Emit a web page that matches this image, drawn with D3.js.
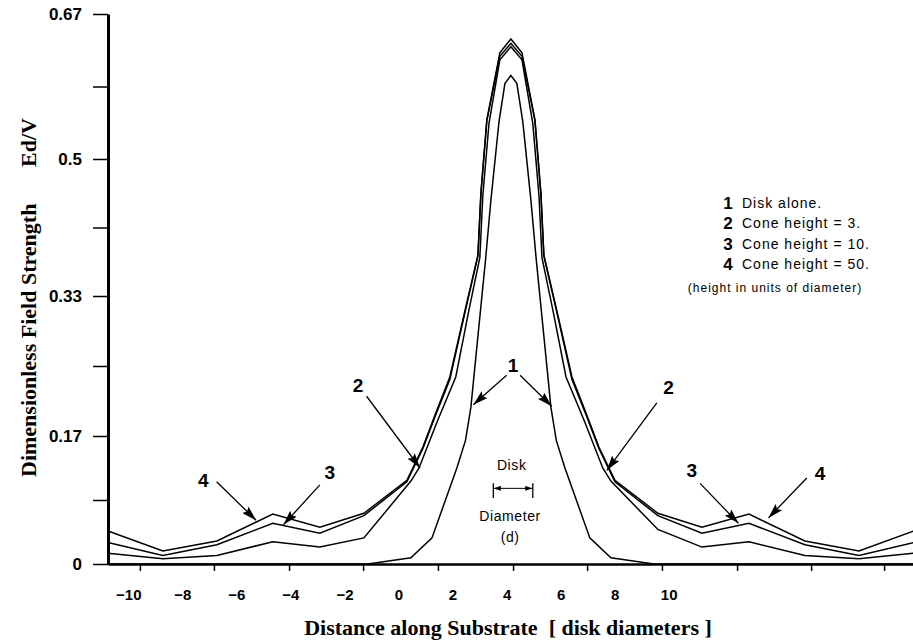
<!DOCTYPE html>
<html>
<head>
<meta charset="utf-8">
<script src="https://cdn.jsdelivr.net/npm/d3@7"></script>
<style>
  body { margin: 0; background: #fff; }
  svg { display: block; }
</style>
</head>
<body>
<script>
// values (x in disk diameters, y = Ed/V)
const xOuter = [-10.75, -8.72, -6.72, -4.65, -2.91, -1.28, 0.31, 0.90, 1.38, 1.90, 2.49, 2.94, 3.05, 3.27, 3.75, 4.16,
  4.57, 5.05, 5.27, 5.38, 5.83, 6.42, 6.94, 7.42, 8.01, 9.60, 11.23, 12.97, 15.04, 17.04, 19.07];
const cone50 = [0.043, 0.017, 0.030, 0.065, 0.048, 0.066, 0.109, 0.152, 0.194, 0.237, 0.320, 0.383, 0.459, 0.545, 0.622, 0.638,
  0.622, 0.545, 0.459, 0.383, 0.320, 0.237, 0.194, 0.152, 0.109, 0.066, 0.048, 0.065, 0.030, 0.017, 0.043];
const cone10 = [0.028, 0.011, 0.025, 0.053, 0.040, 0.063, 0.107, 0.150, 0.192, 0.234, 0.318, 0.382, 0.457, 0.544, 0.618, 0.633,
  0.618, 0.544, 0.457, 0.382, 0.318, 0.234, 0.192, 0.150, 0.107, 0.063, 0.040, 0.053, 0.025, 0.011, 0.028];

const xCone3 = [-10.75, -8.72, -6.72, -4.65, -2.91, -1.28, 0.46, 0.76, 1.46, 2.12, 2.61, 3.01, 3.12, 3.35, 3.75, 4.16,
  4.57, 4.97, 5.20, 5.31, 5.71, 6.20, 6.86, 7.56, 7.86, 9.60, 11.23, 12.97, 15.04, 17.04, 19.07];
const cone3 = [0.014, 0.007, 0.011, 0.029, 0.022, 0.034, 0.108, 0.125, 0.186, 0.237, 0.317, 0.380, 0.455, 0.541, 0.614, 0.629,
  0.614, 0.541, 0.455, 0.380, 0.317, 0.237, 0.186, 0.125, 0.108, 0.045, 0.022, 0.029, 0.011, 0.007, 0.014];

const xDisk = [-10.75, -8.72, -6.72, -4.65, -2.91, -1.13, 0.46, 1.24, 2.16, 2.48, 2.68, 2.79, 3.22, 3.42, 3.72, 3.94, 4.16,
  4.38, 4.60, 4.90, 5.10, 5.53, 5.64, 5.84, 6.16, 7.08, 7.86, 9.45, 11.23, 12.97, 15.04, 17.04, 19.07];
const diskAlone = [0, 0, 0, 0, 0, 0, 0.008, 0.034, 0.125, 0.161, 0.201, 0.237, 0.377, 0.450, 0.543, 0.587, 0.596,
  0.587, 0.543, 0.450, 0.377, 0.237, 0.201, 0.161, 0.125, 0.034, 0.008, 0, 0, 0, 0, 0, 0];

// axis ticks
const xTickLabels = [-10, -8, -6, -4, -2, 0, 2, 4, 6, 8, 10];
const xTickMarks = [-9.57, -6.83, -4.05, -1.31, 1.46, 4.24, 6.98, 9.75, 12.53, 15.27, 17.97];
const yMajor = [0, 1 / 6, 2 / 6, 3 / 6, 4 / 6];
const yLabels = ['0', '0.17', '0.33', '0.5', '0.67'];
const yMinor = [1 / 12, 3 / 12, 5 / 12, 7 / 12];

// legend
const legendNums = ['1', '2', '3', '4'];
const legendText = ['Disk alone.', 'Cone height = 3.', 'Cone height = 10.', 'Cone height = 50.'];

// callouts: label position, arrow start, arrow tip (data units)
const callouts = [
  {label: '1', at: [4.24, 0.251], from: [4.00, 0.239], to: [2.77, 0.204]},
  {label: '',  at: [4.24, 0.251], from: [4.50, 0.239], to: [5.67, 0.202]},
  {label: '2', at: [-1.50, 0.227], from: [-1.18, 0.214], to: [0.80, 0.125]},
  {label: '2', at: [9.99, 0.225], from: [9.56, 0.206], to: [7.71, 0.122]},
  {label: '4', at: [-7.22, 0.109], from: [-6.73, 0.107], to: [-5.27, 0.057]},
  {label: '3', at: [-2.54, 0.120], from: [-2.91, 0.103], to: [-4.26, 0.051]},
  {label: '3', at: [10.85, 0.122], from: [11.16, 0.105], to: [12.58, 0.053]},
  {label: '4', at: [15.60, 0.118], from: [15.11, 0.112], to: [13.69, 0.060]}
];

const W = 913, H = 643;

const svg = d3.select('body').append('svg')
  .attr('width', W)
  .attr('height', H)
  .style('font-family', '"Liberation Sans", Arial, sans-serif');

const x = d3.scaleLinear().domain([-10.75, 19.07]).range([108, 913.8]);
// the printed y axis is not evenly spaced, so map each major tick
const y = d3.scaleLinear().domain(yMajor).range([564, 436, 296, 159, 14]);

const defs = svg.append('defs');
defs.append('marker')
  .attr('id', 'head')
  .attr('viewBox', '0 0 15 9')
  .attr('refX', 15).attr('refY', 4.5)
  .attr('markerWidth', 15).attr('markerHeight', 9)
  .attr('markerUnits', 'userSpaceOnUse')
  .attr('orient', 'auto')
  .append('path').attr('d', 'M0,0L15,4.5L0,9L2.5,4.5Z').attr('fill', '#000');
defs.append('marker')
  .attr('id', 'small')
  .attr('viewBox', '0 0 7 5')
  .attr('refX', 7).attr('refY', 2.5)
  .attr('markerWidth', 7).attr('markerHeight', 5)
  .attr('markerUnits', 'userSpaceOnUse')
  .attr('orient', 'auto-start-reverse')
  .append('path').attr('d', 'M0,0L7,2.5L0,5Z').attr('fill', '#000');

// curves
const series = [
  {xs: xDisk, ys: diskAlone},
  {xs: xCone3, ys: cone3},
  {xs: xOuter, ys: cone10},
  {xs: xOuter, ys: cone50}
];
const line = d3.line();
svg.append('g').selectAll('path')
  .data(series)
  .enter()
  .append('path')
  .attr('fill', 'none')
  .attr('stroke', '#000')
  .attr('stroke-width', 1.5)
  .attr('d', s => line(s.ys.map((v, i) => [x(s.xs[i]), y(v)])));

// x axis: line + tick marks
const xAxis = svg.append('g')
  .attr('transform', 'translate(0,' + y(0) + ')')
  .call(d3.axisBottom(x).tickValues(xTickMarks).tickSize(7).tickSizeOuter(0).tickFormat(''));
xAxis.select('.domain').attr('stroke', '#000').attr('stroke-width', 2.5);
xAxis.selectAll('.tick line').attr('stroke', '#000').attr('stroke-width', 1.5);

// x tick labels (spaced differently from the marks in the original)
const xLab = svg.append('g')
  .attr('transform', 'translate(0,' + y(0) + ')')
  .call(d3.axisBottom(x).tickValues(xTickLabels).tickSize(0).tickPadding(25));
xLab.select('.domain').remove();
xLab.selectAll('text')
  .attr('font-family', '"Liberation Sans", Arial, sans-serif')
  .attr('font-size', '15px')
  .attr('font-weight', 'bold')
  .attr('fill', '#000');

// y axis
const yAxis = svg.append('g')
  .attr('transform', 'translate(' + x(-10.75) + ',0)')
  .call(d3.axisLeft(y)
    .tickValues(yMajor.concat(yMinor))
    .tickSize(15)
    .tickSizeOuter(0)
    .tickPadding(11)
    .tickFormat(d => {
      const i = yMajor.indexOf(d);
      return i < 0 ? '' : yLabels[i];
    }));
yAxis.select('.domain').attr('stroke', '#000').attr('stroke-width', 3);
yAxis.selectAll('.tick line').attr('stroke', '#000').attr('stroke-width', 1.5);
yAxis.selectAll('text')
  .attr('font-family', '"Liberation Sans", Arial, sans-serif')
  .attr('font-size', '17px')
  .attr('font-weight', 'bold')
  .attr('fill', '#000');

// axis titles
svg.append('text')
  .attr('x', 508)
  .attr('y', 635)
  .attr('text-anchor', 'middle')
  .attr('font-family', '"Liberation Serif", "Times New Roman", serif')
  .attr('font-weight', 'bold')
  .attr('font-size', '22px')
  .style('white-space', 'pre')
  .text('Distance along Substrate  [ disk diameters ]');

svg.append('text')
  .attr('transform', 'translate(36,477) rotate(-90)')
  .attr('font-family', '"Liberation Serif", "Times New Roman", serif')
  .attr('font-weight', 'bold')
  .attr('font-size', '22px')
  .text('Dimensionless Field Strength');
svg.append('text')
  .attr('transform', 'translate(36,118) rotate(-90)')
  .attr('text-anchor', 'end')
  .attr('font-family', '"Liberation Serif", "Times New Roman", serif')
  .attr('font-weight', 'bold')
  .attr('font-size', '22px')
  .text('Ed/V');

// callout arrows and numbers
const co = svg.append('g');
co.selectAll('line')
  .data(callouts)
  .enter()
  .append('line')
  .attr('x1', d => x(d.from[0]))
  .attr('y1', d => y(d.from[1]))
  .attr('x2', d => x(d.to[0]))
  .attr('y2', d => y(d.to[1]))
  .attr('stroke', '#000')
  .attr('stroke-width', 1.3)
  .attr('marker-end', 'url(#head)');
co.selectAll('text')
  .data(callouts.filter(d => d.label))
  .enter()
  .append('text')
  .attr('x', d => x(d.at[0]))
  .attr('y', d => y(d.at[1]))
  .attr('dy', '0.36em')
  .attr('text-anchor', 'middle')
  .attr('font-size', '19px')
  .attr('font-weight', 'bold')
  .attr('fill', '#000')
  .text(d => d.label);

// disk diameter marker in the centre
const disk = svg.append('g').attr('font-size', '14px').attr('fill', '#000')
  .style('letter-spacing', '0.6px').attr('text-anchor', 'middle');
disk.append('text').attr('x', x(4.19)).attr('y', y(0.129)).attr('dy', '0.36em').text('Disk');
disk.append('text').attr('x', x(4.13)).attr('y', y(0.063)).attr('dy', '0.36em').text('Diameter');
disk.append('text').attr('x', x(4.13)).attr('y', y(0.035)).attr('dy', '0.36em').text('(d)');
[3.51, 4.97].forEach(v => {
  disk.append('line')
    .attr('x1', x(v)).attr('x2', x(v))
    .attr('y1', y(0.105)).attr('y2', y(0.086))
    .attr('stroke', '#000').attr('stroke-width', 1.3);
});
disk.append('line')
  .attr('x1', x(3.53)).attr('x2', x(4.95))
  .attr('y1', y(0.0985)).attr('y2', y(0.0985))
  .attr('stroke', '#000').attr('stroke-width', 1)
  .attr('marker-start', 'url(#small)')
  .attr('marker-end', 'url(#small)');

// legend
const leg = svg.append('g').attr('fill', '#000');
legendNums.forEach((n, i) => {
  leg.append('text')
    .attr('x', 728).attr('y', 203 + i * 20.3).attr('dy', '0.36em')
    .attr('text-anchor', 'middle')
    .attr('font-size', '17px').attr('font-weight', 'bold')
    .text(n);
  leg.append('text')
    .attr('x', 742).attr('y', 203 + i * 20.3).attr('dy', '0.36em')
    .attr('font-size', '14px')
    .style('letter-spacing', '1px')
    .text(legendText[i]);
});
leg.append('text')
  .attr('x', 775).attr('y', 288).attr('dy', '0.36em')
  .attr('text-anchor', 'middle')
  .attr('font-size', '12px')
  .style('letter-spacing', '1px')
  .text('(height in units of diameter)');
</script>
</body>
</html>
